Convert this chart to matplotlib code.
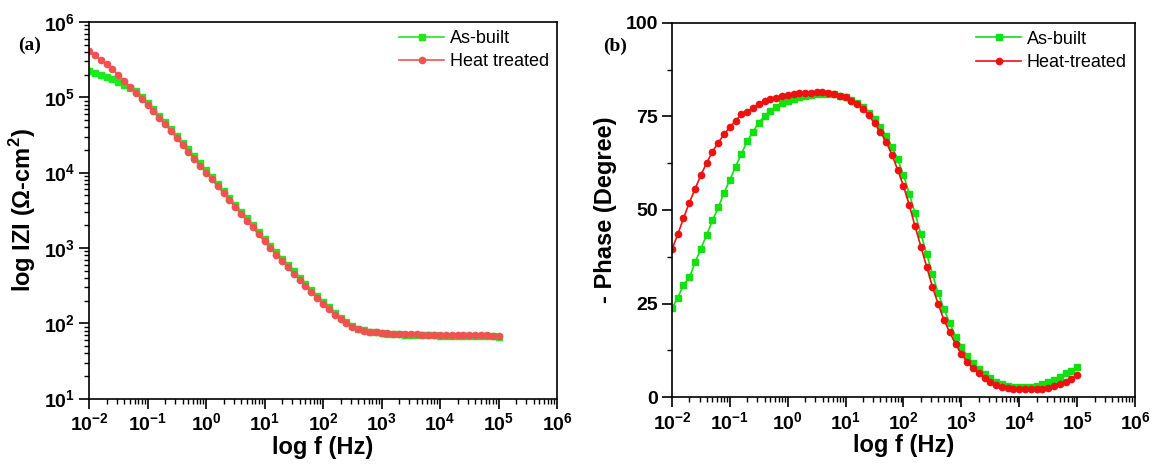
import matplotlib
matplotlib.use("Agg")
import matplotlib.pyplot as plt
from matplotlib.ticker import LogLocator, NullFormatter, MultipleLocator

plt.rcParams["font.family"] = ["Liberation Sans", "DejaVu Sans"]
plt.rcParams["mathtext.fontset"] = "custom"
plt.rcParams["mathtext.rm"] = "Liberation Sans"
plt.rcParams["mathtext.bf"] = "Liberation Sans:bold"

# Frequency sweep (Hz), 10 points per decade
freq = [0.01, 0.0126, 0.0158, 0.02, 0.0251, 0.0316, 0.0398, 0.0501, 0.0631, 0.0794,
        0.1, 0.126, 0.158, 0.2, 0.251, 0.316, 0.398, 0.501, 0.631, 0.794,
        1, 1.26, 1.58, 2, 2.51, 3.16, 3.98, 5.01, 6.31, 7.94,
        10, 12.6, 15.8, 20, 25.1, 31.6, 39.8, 50.1, 63.1, 79.4,
        100, 126, 158, 200, 251, 316, 398, 501, 631, 794,
        1000, 1260, 1580, 2000, 2510, 3160, 3980, 5010, 6310, 7940,
        10000, 12600, 15800, 20000, 25100, 31600, 39800, 50100, 63100, 79400,
        100000]

# |Z| (ohm cm^2)
z_asbuilt = [2.24e5, 2.11e5, 1.99e5, 1.86e5, 1.73e5, 1.60e5, 1.47e5, 1.34e5, 1.22e5, 1.02e5,
             8.47e4, 6.97e4, 5.71e4, 4.67e4, 3.81e4, 3.10e4, 2.51e4, 2.03e4, 1.64e4, 1.33e4,
             1.07e4, 8690, 7050, 5710, 4630, 3760, 3040, 2470, 2000, 1620,
             1320, 1070, 875, 718, 590, 486, 402, 333, 277, 231,
             194, 163, 138, 118, 103, 92.3, 84.9, 80.4, 77.3, 75.3,
             73.8, 72.8, 71.9, 71.3, 70.6, 70.1, 69.8, 69.4, 69.1, 68.8,
             68.5, 68.3, 68.1, 67.8, 67.6, 67.4, 67.2, 67.0, 66.8, 66.7,
             66.5]
z_heat = [4.07e5, 3.61e5, 3.17e5, 2.75e5, 2.35e5, 2.00e5, 1.67e5, 1.39e5, 1.15e5, 9.55e4,
          7.91e4, 6.50e4, 5.33e4, 4.36e4, 3.56e4, 2.89e4, 2.34e4, 1.90e4, 1.53e4, 1.24e4,
          1.00e4, 8110, 6580, 5330, 4330, 3510, 2840, 2300, 1870, 1510,
          1230, 1000, 817, 670, 551, 454, 375, 310, 258, 215,
          181, 153, 130, 113, 99.3, 89.7, 83.4, 79.4, 76.9, 75.3,
          74.1, 73.3, 72.6, 72.1, 71.6, 71.3, 71.0, 70.6, 70.5, 70.3,
          70.1, 69.9, 69.7, 69.5, 69.4, 69.2, 69.0, 68.9, 68.7, 68.6,
          68.4]

# -Phase (degree)
ph_asbuilt = [23.8, 26.6, 30.0, 32.0, 36.0, 39.7, 43.4, 47.2, 50.7, 54.6,
              58.0, 61.6, 65.0, 68.4, 70.9, 73.3, 75.1, 76.5, 77.6, 78.5,
              79.2, 79.7, 80.2, 80.5, 80.8, 80.9, 81.0, 81.0, 80.9, 80.5,
              80.1, 79.4, 78.5, 77.4, 75.8, 74.2, 72.1, 69.8, 66.9, 63.5,
              59.3, 54.4, 49.1, 43.6, 38.3, 32.9, 27.8, 23.5, 19.8, 16.2,
              13.5, 11.0, 9.1, 7.5, 6.2, 5.1, 4.2, 3.6, 3.1, 2.8,
              2.7, 2.7, 2.8, 3.1, 3.6, 4.0, 4.6, 5.3, 6.4, 6.9,
              8.2]
ph_heat = [39.5, 43.5, 47.8, 52.0, 55.7, 59.3, 62.6, 65.6, 68.0, 70.2,
           72.1, 73.8, 75.6, 76.2, 77.3, 78.3, 79.1, 79.5, 80.0, 80.3,
           80.7, 81.0, 81.1, 81.3, 81.3, 81.4, 81.4, 81.2, 81.0, 80.5,
           80.1, 79.2, 78.2, 76.9, 75.4, 73.1, 70.9, 68.2, 64.8, 60.7,
           56.4, 51.3, 45.7, 40.2, 34.9, 29.5, 24.9, 20.6, 17.3, 14.2,
           11.6, 9.5, 7.7, 6.4, 5.1, 4.2, 3.3, 2.8, 2.4, 2.1,
           2.1, 2.1, 2.1, 2.1, 2.3, 2.6, 3.0, 3.6, 4.2, 4.9,
           6.0]

x_ticks = [1e-2, 1e-1, 1e0, 1e1, 1e2, 1e3, 1e4, 1e5, 1e6]
x_labels = [r"$\mathbf{10^{-2}}$", r"$\mathbf{10^{-1}}$", r"$\mathbf{10^{0}}$",
            r"$\mathbf{10^{1}}$", r"$\mathbf{10^{2}}$", r"$\mathbf{10^{3}}$",
            r"$\mathbf{10^{4}}$", r"$\mathbf{10^{5}}$", r"$\mathbf{10^{6}}$"]
z_ticks = [1e1, 1e2, 1e3, 1e4, 1e5, 1e6]
z_labels = [r"$\mathbf{10^{1}}$", r"$\mathbf{10^{2}}$", r"$\mathbf{10^{3}}$",
            r"$\mathbf{10^{4}}$", r"$\mathbf{10^{5}}$", r"$\mathbf{10^{6}}$"]
ph_ticks = [0, 25, 50, 75, 100]


def style_axes(ax):
    for s in ax.spines.values():
        s.set_linewidth(1.2)
    ax.tick_params(which="major", direction="out", length=7, width=1.2,
                   labelsize=14, pad=3)
    ax.tick_params(which="minor", direction="out", length=3.5, width=1.0)
    for lab in ax.get_xticklabels() + ax.get_yticklabels():
        lab.set_fontweight("bold")


fig = plt.figure(figsize=(11.59, 4.65), dpi=100)
ax1 = fig.add_axes([0.0768, 0.143, 0.4038, 0.8097])
ax2 = fig.add_axes([0.5798, 0.1456, 0.3995, 0.8056])

# (a) impedance modulus
ax1.plot(freq, z_asbuilt, "-s", color="#1ee81e", lw=1.2, ms=4.5, label="As-built")
ax1.plot(freq, z_heat, "-o", color="#f05252", lw=1.2, ms=4.5, label="Heat treated")
ax1.set_xscale("log")
ax1.set_yscale("log")
ax1.set_xlim(1e-2, 1e6)
ax1.set_ylim(1e1, 1e6)
ax1.set_xticks(x_ticks, x_labels)
ax1.set_yticks(z_ticks, z_labels)
for axis in (ax1.xaxis, ax1.yaxis):
    axis.set_minor_locator(LogLocator(base=10, subs=range(2, 10), numticks=100))
    axis.set_minor_formatter(NullFormatter())
ax1.set_xlabel("log f (Hz)", fontsize=17, fontweight="bold", labelpad=1)
ax1.set_ylabel(r"log IZI (Ω-cm$^\mathbf{2}$)", fontsize=17, fontweight="bold", labelpad=4)
style_axes(ax1)
ax1.legend(loc="upper right", frameon=False, fontsize=13, handlelength=2.5,
           handletextpad=0.3, labelspacing=0.35, borderaxespad=0.3, borderpad=0.15)

# (b) phase angle
ax2.plot(freq, ph_asbuilt, "-s", color="#11e011", lw=1.2, ms=4.5, label="As-built")
ax2.plot(freq, ph_heat, "-o", color="#ee1111", lw=1.2, ms=4.5, label="Heat-treated")
ax2.set_xscale("log")
ax2.set_xlim(1e-2, 1e6)
ax2.set_ylim(0, 100)
ax2.set_xticks(x_ticks, x_labels)
ax2.xaxis.set_minor_locator(LogLocator(base=10, subs=range(2, 10), numticks=100))
ax2.xaxis.set_minor_formatter(NullFormatter())
ax2.set_yticks(ph_ticks)
ax2.yaxis.set_minor_locator(MultipleLocator(12.5))
ax2.set_xlabel("log f (Hz)", fontsize=17, fontweight="bold", labelpad=1)
ax2.set_ylabel("- Phase (Degree)", fontsize=17, fontweight="bold", labelpad=6)
style_axes(ax2)
ax2.legend(loc="upper right", frameon=False, fontsize=13, handlelength=2.5,
           handletextpad=0.3, labelspacing=0.35, borderaxespad=0.3, borderpad=0.15)

fig.text(0.016, 0.903, "(a)", fontsize=14, fontweight="bold",
         family="Liberation Serif", va="center")
fig.text(0.520, 0.900, "(b)", fontsize=14, fontweight="bold",
         family="Liberation Serif", va="center")

fig.savefig("out.png", dpi=100)
